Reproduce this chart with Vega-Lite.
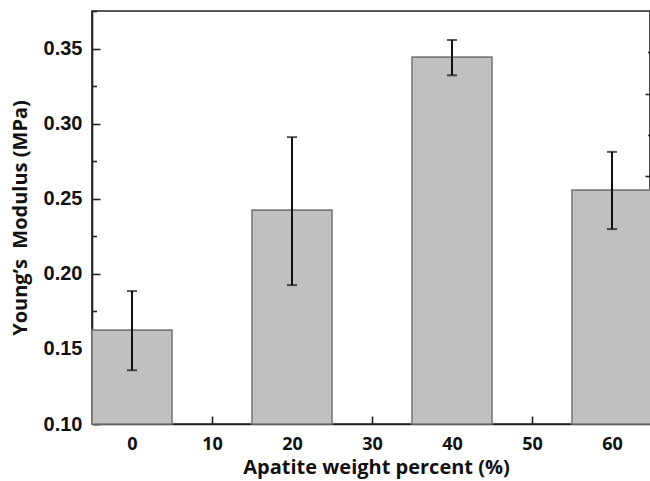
{
  "$schema": "https://vega.github.io/schema/vega-lite/v6.json",
  "autosize": "none",
  "width": 558,
  "height": 413,
  "padding": {"left": 92, "top": 11, "right": 0, "bottom": 57},
  "background": "white",
  "config": {
    "view": {"stroke": "#222222", "strokeWidth": 1.6},
    "axis": {"grid": false, "domainColor": "#222222", "tickColor": "#222222", "domainWidth": 1.6, "tickWidth": 1.6, "labelColor": "#111111", "titleColor": "#111111"}
  },
  "data": {
    "values": [
      {"pct": 0, "modulus": 0.1625, "lo": 0.1358, "hi": 0.1885},
      {"pct": 20, "modulus": 0.2424, "lo": 0.1925, "hi": 0.291},
      {"pct": 40, "modulus": 0.3443, "lo": 0.3322, "hi": 0.3557},
      {"pct": 60, "modulus": 0.2557, "lo": 0.2298, "hi": 0.2812}
    ]
  },
  "resolve": {"axis": {"x": "independent", "y": "independent"}},
  "layer": [
    {
      "mark": {"type": "bar", "size": 80, "fill": "#c0c0c0", "stroke": "#7a7a7a", "strokeWidth": 1.6},
      "encoding": {
        "x": {
          "field": "pct", "type": "quantitative",
          "scale": {"domain": [-5, 64.75], "nice": false, "zero": false, "padding": 0},
          "axis": {
            "orient": "bottom", "values": [0, 10, 20, 30, 40, 50, 60], "tickSize": -8,
            "labelPadding": 19, "labelFont": "Open Sans", "labelFontWeight": "bold", "labelFontSize": 18,
            "title": "Apatite weight percent (%)", "titleFont": "Open Sans", "titleFontWeight": "bold", "titleFontSize": 20, "titlePadding": 4, "titleX": 284
          }
        },
        "y": {
          "field": "modulus", "type": "quantitative",
          "scale": {"domain": [0.1, 0.375], "nice": false, "zero": false, "padding": 0},
          "axis": {
            "orient": "left", "values": [0.1, 0.15, 0.2, 0.25, 0.3, 0.35], "format": ".2f", "tickSize": -8,
            "labelPadding": 18, "labelFont": "Liberation Sans", "labelFontWeight": "bold", "labelFontSize": 20,
            "title": "Young’s\u00a0 Modulus (MPa)", "titleFont": "Open Sans", "titleFontWeight": "bold", "titleFontSize": 20, "titlePadding": 13
          }
        },
        "y2": {"datum": 0.1}
      }
    },
    {
      "mark": {"type": "errorbar", "ticks": {"size": 10, "thickness": 2, "color": "#111111"}, "rule": {"strokeWidth": 2, "color": "#111111"}},
      "encoding": {
        "x": {"field": "pct", "type": "quantitative", "axis": null},
        "y": {"field": "lo", "type": "quantitative", "title": null, "axis": null},
        "y2": {"field": "hi"}
      }
    },
    {
      "mark": {"type": "point", "opacity": 0},
      "encoding": {
        "x": {"field": "pct", "type": "quantitative", "axis": null},
        "y": {"field": "modulus", "type": "quantitative", "axis": {"orient": "right", "values": [0.155, 0.21, 0.265, 0.32], "tickSize": -5, "labels": false, "title": null, "domain": false, "tickColor": "#222222"}}
      }
    },
    {
      "mark": {"type": "point", "opacity": 0},
      "encoding": {
        "x": {"field": "pct", "type": "quantitative", "axis": null},
        "y": {"field": "modulus", "type": "quantitative", "axis": {"orient": "right", "values": [0.1275, 0.1825, 0.2375, 0.2925, 0.3475], "tickSize": -2.5, "labels": false, "title": null, "domain": false, "tickColor": "#222222"}}
      }
    },
    {
      "mark": {"type": "point", "opacity": 0},
      "encoding": {
        "x": {"field": "pct", "type": "quantitative", "axis": null},
        "y": {"field": "modulus", "type": "quantitative", "axis": {"orient": "left", "values": [0.125, 0.175, 0.225, 0.275, 0.325, 0.375], "tickSize": -4.5, "labels": false, "title": null, "domain": false}}
      }
    }
  ]
}
